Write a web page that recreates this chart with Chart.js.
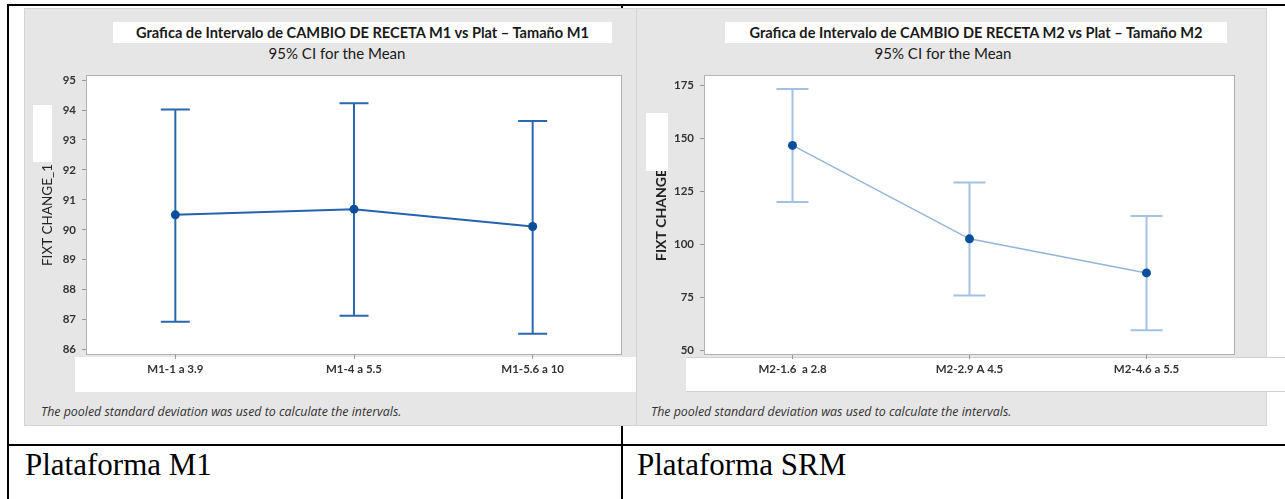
<!DOCTYPE html>
<html>
<head>
<meta charset="utf-8">
<script src="https://cdn.jsdelivr.net/npm/chart.js@4.4.1/dist/chart.umd.min.js"></script>
<style>
body { margin: 0; background: #fff; }
#page { position: relative; width: 1285px; height: 499px; overflow: hidden; background: #fff; font-family: Lato, sans-serif; }
.line { position: absolute; background: #000; }
.panel { position: absolute; background: #e6e6e6; border: 1px solid #d4d4d4; box-sizing: border-box; }
.tbox { position: absolute; background: #fff; height: 21px; line-height: 21px; text-align: center; font-weight: bold; font-size: 14.6px; color: #1a1a1a; white-space: nowrap; }
.sub { position: absolute; width: 300px; font-size: 15px; line-height: 18px; color: #1a1a1a; text-align: center; }
.strip { position: absolute; background: #fff; box-sizing: border-box; }
.note { position: absolute; font-family: "Open Sans", sans-serif; font-style: italic; font-size: 12.4px; line-height: 15px; color: #333; white-space: nowrap; }
.mask { position: absolute; background: #fff; }
.cap { position: absolute; font-family: "Liberation Serif", serif; font-size: 31px; line-height: 31px; color: #000; white-space: nowrap; }
canvas { position: absolute; }
</style>
</head>
<body>
<div id="page">
  <!-- tabla -->
  <div class="line" style="left:7px;top:4px;width:1278px;height:2px"></div>
  <div class="line" style="left:7px;top:4px;width:2px;height:495px"></div>
  <div class="line" style="left:621px;top:4px;width:2px;height:495px"></div>
  <div class="line" style="left:7px;top:444px;width:1278px;height:2px"></div>

  <!-- grafica M1 -->
  <div class="panel" style="left:24px;top:8px;width:615px;height:418px"></div>
  <div class="tbox" style="left:113px;top:22px;width:499px">Grafica de Intervalo de CAMBIO DE RECETA M1 vs Plat – Tamaño M1</div>
  <div class="sub" style="left:187px;top:44px">95% CI for the Mean</div>
  <div class="strip" style="left:75px;top:357px;width:565px;height:35px"></div>
  <canvas id="chartM1" width="613" height="336" style="left:25px;top:62px"></canvas>
  <div class="mask" style="left:33px;top:105px;width:19px;height:57px"></div>
  <div class="note" style="left:41px;top:404px">The pooled standard deviation was used to calculate the intervals.</div>

  <!-- grafica M2 -->
  <div class="panel" style="left:636px;top:8px;width:631px;height:418px"></div>
  <div class="tbox" style="left:725px;top:22px;width:502px">Grafica de Intervalo de CAMBIO DE RECETA M2 vs Plat – Tamaño M2</div>
  <div class="sub" style="left:793px;top:44px">95% CI for the Mean</div>
  <div class="strip" style="left:686px;top:357px;width:600px;height:35px;border-top:1px solid #cfcfcf;border-bottom:1px solid #cfcfcf"></div>
  <canvas id="chartM2" width="630" height="336" style="left:636px;top:62px"></canvas>
  <div class="mask" style="left:646px;top:113px;width:22px;height:58px"></div>
  <div class="note" style="left:651px;top:404px">The pooled standard deviation was used to calculate the intervals.</div>

  <div class="cap" style="left:25px;top:449px">Plataforma M1</div>
  <div class="cap" style="left:637px;top:449px">Plataforma SRM</div>
</div>

<script>
// ====== DATOS ======
const m1Categories = ['M1-1 a 3.9', 'M1-4 a 5.5', 'M1-5.6 a 10'];
const m1Mean = [90.50, 90.69, 90.11];
const m1Lower = [86.93, 87.13, 86.53];
const m1Upper = [94.02, 94.23, 93.63];
const m1Ticks = [86, 87, 88, 89, 90, 91, 92, 93, 94, 95];

const m2Categories = ['M2-1.6  a 2.8', 'M2-2.9 A 4.5', 'M2-4.6 a 5.5'];
const m2Mean = [146.6, 102.5, 86.4];
const m2Lower = [119.9, 75.8, 59.3];
const m2Upper = [173.3, 129.1, 113.3];
const m2Ticks = [50, 75, 100, 125, 150, 175];

// barras de intervalo (IC 95%)
const errorBarPlugin = {
    id: 'errorBars',
    beforeDatasetsDraw(chart, args, opts) {
        const { ctx, scales: { x, y } } = chart;
        ctx.save();
        ctx.strokeStyle = opts.color;
        ctx.lineWidth = opts.width;
        opts.lower.forEach((lo, i) => {
            const px = x.getPixelForValue(i);
            const yLo = y.getPixelForValue(lo);
            const yHi = y.getPixelForValue(opts.upper[i]);
            const half = opts.capWidth / 2;
            ctx.beginPath();
            ctx.moveTo(px, yHi);
            ctx.lineTo(px, yLo);
            ctx.moveTo(px - half, yHi);
            ctx.lineTo(px + half, yHi);
            ctx.moveTo(px - half, yLo);
            ctx.lineTo(px + half, yLo);
            ctx.stroke();
        });
        ctx.restore();
    }
};

// fondo blanco y marco del area de trazado
const framePlugin = {
    id: 'plotFrame',
    beforeDraw(chart) {
        const { ctx, chartArea: a } = chart;
        ctx.save();
        ctx.fillStyle = '#fff';
        ctx.fillRect(a.left, a.top, a.right - a.left, a.bottom - a.top);
        ctx.restore();
    },
    afterDraw(chart) {
        const { ctx, chartArea: a } = chart;
        ctx.save();
        ctx.strokeStyle = '#b0b0b0';
        ctx.lineWidth = 1;
        ctx.strokeRect(a.left + 0.5, a.top + 0.5, a.right - a.left - 1, a.bottom - a.top - 1);
        ctx.restore();
    }
};

function makeChart(id, cfg) {
    const ctx = document.getElementById(id).getContext('2d');
    return new Chart(ctx, {
        type: 'line',
        data: {
            labels: cfg.labels,
            datasets: [{
                data: cfg.mean,
                borderColor: cfg.lineColor,
                borderWidth: cfg.lineWidth,
                pointRadius: 4.5,
                pointBackgroundColor: '#0b4f9c',
                pointBorderWidth: 0,
                tension: 0,
                fill: false
            }]
        },
        options: {
            responsive: false,
            animation: false,
            layout: { padding: cfg.padding },
            plugins: {
                legend: { display: false },
                tooltip: { enabled: false },
                errorBars: {
                    lower: cfg.lower,
                    upper: cfg.upper,
                    color: cfg.barColor,
                    width: 2,
                    capWidth: cfg.capWidth
                }
            },
            scales: {
                x: {
                    offset: true,
                    afterFit: s => { s.height = 43; },
                    border: { display: false },
                    grid: { drawOnChartArea: false, tickLength: 4, tickColor: '#999' },
                    ticks: {
                        color: '#333',
                        font: { family: 'Lato', weight: 'bold', size: 11.5 },
                        padding: 3,
                        maxRotation: 0,
                        autoSkip: false
                    }
                },
                y: {
                    min: cfg.yMin,
                    max: cfg.yMax,
                    afterBuildTicks: s => { s.ticks = cfg.ticks.map(v => ({ value: v })); },
                    afterFit: s => { s.width = cfg.yWidth; },
                    border: { display: false },
                    grid: { drawOnChartArea: false, tickLength: 4, tickColor: '#999' },
                    ticks: {
                        color: '#333',
                        font: { family: 'Lato', weight: 'bold', size: 11.5 },
                        padding: 6
                    },
                    title: {
                        display: true,
                        text: cfg.yTitle,
                        color: '#222',
                        font: { family: 'Lato', size: cfg.yTitleSize, weight: cfg.yTitleWeight },
                        padding: { top: cfg.yTitlePad, bottom: 0 }
                    }
                }
            }
        },
        plugins: [framePlugin, errorBarPlugin]
    });
}

document.addEventListener('DOMContentLoaded', () => {
    makeChart('chartM1', {
        labels: m1Categories,
        mean: m1Mean,
        lower: m1Lower,
        upper: m1Upper,
        ticks: m1Ticks,
        yMin: 85.82,
        yMax: 95.17,
        yWidth: 61,
        yTitle: 'FIXT CHANGE_1',
        yTitleSize: 13.5,
        yTitleWeight: 'normal',
        yTitlePad: 15,
        padding: { top: 13, right: 16, left: 0, bottom: 0 },
        lineColor: '#2563ae',
        lineWidth: 2,
        barColor: '#2a67b1',
        capWidth: 29
    });

    makeChart('chartM2', {
        labels: m2Categories,
        mean: m2Mean,
        lower: m2Lower,
        upper: m2Upper,
        ticks: m2Ticks,
        yMin: 47.65,
        yMax: 179.9,
        yWidth: 68,
        yTitle: 'FIXT CHANGE',
        yTitleSize: 14,
        yTitleWeight: 'bold',
        yTitlePad: 17,
        padding: { top: 11, right: 31, left: 0, bottom: 0 },
        lineColor: '#94b5dc',
        lineWidth: 1.5,
        barColor: '#a2c1e3',
        capWidth: 32
    });
});
</script>
</body>
</html>
